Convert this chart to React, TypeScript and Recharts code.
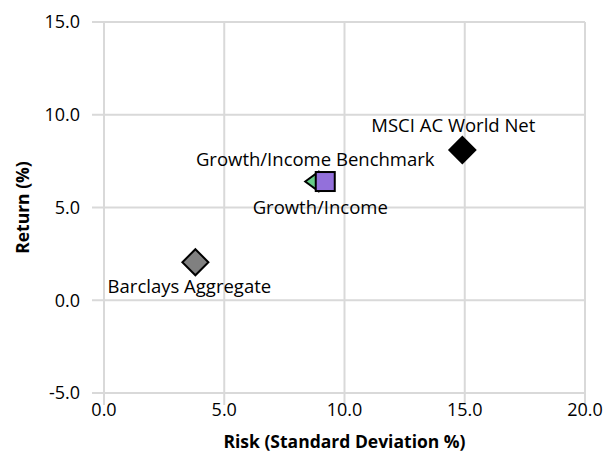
import React from 'react'
import { CartesianGrid, Label, Scatter, ScatterChart, XAxis, YAxis } from 'recharts'

const names = ['MSCI AC World Net', 'Growth/Income Benchmark', 'Growth/Income', 'Barclays Aggregate']
const risk = [14.9, 8.7, 9.2, 3.8]
const returns = [8.1, 6.4, 6.4, 2.05]
const xTicks = [0, 5, 10, 15, 20]
const yTicks = [-5, 0, 5, 10, 15]

const font = 'Open Sans, sans-serif'

const looks = [
    { fill: '#000000', kind: 'diamond', size: 13, dx: -9, dy: -25 },
    { fill: '#66cc88', kind: 'triangle', size: 8, dx: 2, dy: -23 },
    { fill: '#9370db', kind: 'square', size: 9.5, dx: -5, dy: 25 },
    { fill: '#808080', kind: 'diamond', size: 13, dx: -6, dy: 23 },
]

const makeShape = (i: number) => (props: any) => {
    const { cx, cy } = props
    const l = looks[i]
    const s = l.size
    let mark
    if (l.kind === 'diamond') {
        mark = <polygon points={`${cx},${cy - s} ${cx + s},${cy} ${cx},${cy + s} ${cx - s},${cy}`} fill={l.fill} stroke="#000" strokeWidth={2} />
    } else if (l.kind === 'triangle') {
        mark = <polygon points={`${cx - s},${cy} ${cx + 5},${cy - 9.5} ${cx + 5},${cy + 9.5}`} fill={l.fill} stroke="#000" strokeWidth={2} />
    } else {
        mark = <rect x={cx - s} y={cy - s} width={s * 2} height={s * 2} fill={l.fill} stroke="#000" strokeWidth={2} />
    }
    return (
        <g>
            {mark}
            <text x={cx + l.dx} y={cy + l.dy} textAnchor="middle" dominantBaseline="central" fontFamily={font} fontSize={18.5} fill="#000">
                {names[i]}
            </text>
        </g>
    )
}

const App = () => {
    return (
        <div style={{ position: 'absolute', left: 0, top: 0 }}>
            <ScatterChart width={607} height={469} margin={{ top: 22, right: 22, bottom: 0, left: 0 }}>
                <CartesianGrid stroke="#d9d9d9" strokeWidth={2} />
                <XAxis
                    type="number"
                    dataKey="x"
                    domain={[0, 20]}
                    ticks={xTicks}
                    tickFormatter={(v: number) => v.toFixed(1)}
                    stroke="#d9d9d9"
                    strokeWidth={2}
                    tickSize={12}
                    tickMargin={-2}
                    height={76}
                    tick={{ fill: '#000', fontFamily: font, fontSize: 18 }}
                >
                    <Label
                        content={({ viewBox }: any) => (
                            <text x={viewBox.x + viewBox.width / 2} y={441} textAnchor="middle" dominantBaseline="central" fontFamily={font} fontSize={17.5} fontWeight="bold" fill="#000">
                                Risk (Standard Deviation %)
                            </text>
                        )}
                    />
                </XAxis>
                <YAxis
                    type="number"
                    dataKey="y"
                    domain={[-5, 15]}
                    ticks={yTicks}
                    tickFormatter={(v: number) => v.toFixed(1)}
                    stroke="#d9d9d9"
                    strokeWidth={2}
                    tickSize={12}
                    tickMargin={12}
                    width={104}
                    tick={{ fill: '#000', fontFamily: font, fontSize: 18 }}
                >
                    <Label
                        content={({ viewBox }: any) => {
                            const cy = viewBox.y + viewBox.height / 2
                            return (
                                <text x={22} y={cy} transform={`rotate(-90 22 ${cy})`} textAnchor="middle" dominantBaseline="central" fontFamily={font} fontSize={17.5} fontWeight="bold" fill="#000">
                                    Return (%)
                                </text>
                            )
                        }}
                    />
                </YAxis>
                {names.map((n, i) => (
                    <Scatter key={n} name={n} data={[{ x: risk[i], y: returns[i] }]} shape={makeShape(i)} isAnimationActive={false} />
                ))}
            </ScatterChart>
        </div>
    )
}

export default App
